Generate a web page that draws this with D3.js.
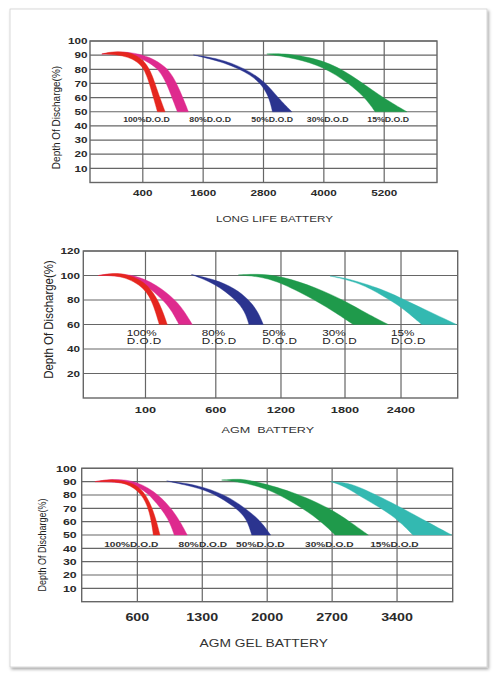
<!DOCTYPE html>
<html><head><meta charset="utf-8">
<script src="https://cdn.jsdelivr.net/npm/d3@7"></script>
<style>body{margin:0;background:#fff}svg{display:block}text{font-family:"Liberation Sans",Arial,sans-serif}</style>
</head><body><svg id="c" width="497" height="677"></svg>
<script>
// ---------- DATA ----------
const dodLabels = ["100%", "80%", "50%", "30%", "15%"];

// LONG LIFE BATTERY
const longLifeTitle = "LONG LIFE BATTERY";
const longLifeXTicks = [400, 1600, 2800, 4000, 5200];
const longLifeYTicks = [10, 20, 30, 40, 50, 60, 70, 80, 90, 100];
const longLifeLabelX = [472, 1739, 2972, 4076, 5279];
const longLife100 = {
  outer: [[-415,90.8],[-250,92.2],[-91,92.6],[88,92],[247,90.3],[400,86.8],[510,81.5],[590,75.5],[651,69],[744,59.5],[844,50]],
  inner: [[-415,90.8],[-151,90.5],[108,88.7],[280,85.5],[400,81.5],[470,76],[531,70],[611,60],[691,50]]
};
const longLife80 = {
  outer: [[-415,90.8],[-91,92.6],[247,91.6],[545,88.5],[760,84],[929,79],[1076,70],[1196,60],[1307,50]],
  inner: [[-415,90.8],[-51,90.8],[247,89.4],[486,85.5],[680,81],[830,73.5],[960,62],[1088,50]]
};
const longLife50 = {
  outer: [[1406,90.1],[1904,87.8],[2435,80.7],[2833,71.2],[3097,59.5],[3364,50]],
  inner: [[1406,90.1],[2037,84.9],[2568,76],[2800,67.5],[2920,59],[2978,50]]
};
const longLife30 = {
  outer: [[2866,90.8],[3230,91.5],[3992,86.8],[4557,76],[5086,61.8],[5651,50]],
  inner: [[2866,90.8],[3429,87.8],[3992,81.8],[4500,70],[4820,60],[5020,50]]
};

// AGM BATTERY
const agmTitle = "AGM  BATTERY";
const agmXTicks = [100, 600, 1200, 1800, 2400];
const agmYTicks = [20, 40, 60, 80, 100, 120];
const agmLabelX = [-51, 500, 1028, 1587, 2293];
const agm100 = {
  outer: [[-279,100],[-185,101.6],[-78,102],[96,95.4],[180,81.9],[221,71.3],[255,60]],
  inner: [[-279,100],[-78,100],[96,90],[155,76.7],[198,60]]
};
const agm80 = {
  outer: [[-279,100],[-185,101.6],[2,101],[180,92.7],[322,79.2],[381,69.8],[433,60]],
  inner: [[-279,100],[-78,100],[96,92.7],[180,84.6],[274,74.2],[338,60]]
};
const agm50 = {
  outer: [[426,100.8],[594,96.8],[777,89.5],[905,80.2],[988,70.5],[1037,60]],
  inner: [[426,100.8],[594,93.5],[786,80.2],[869,70.5],[905,60]]
};
const agm30 = {
  outer: [[807,100.4],[976,101.4],[1207,99.6],[1535,90],[1800,79.2],[2032,69],[2264,60]],
  inner: [[807,100.4],[1007,99.2],[1207,94.1],[1535,79.2],[1722,69],[1889,60]]
};
const agm15 = {
  outer: [[1659,99.6],[1800,98.3],[2210,88.7],[2460,79.2],[2707,70.3],[2989,60]],
  inner: [[1659,99.6],[1961,94.1],[2210,83.2],[2407,74.2],[2619,60]]
};

// AGM GEL BATTERY
const gelTitle = "AGM GEL BATTERY";
const gelXTicks = [600, 1300, 2000, 2700, 3400];
const gelYTicks = [10, 20, 30, 40, 50, 60, 70, 80, 90, 100];
const gelLabelX = [534, 1306, 1926, 2669, 3372];
const gel100 = {
  outer: [[143,90],[341,92.2],[575,89],[701,80],[790,65],[844,50]],
  inner: [[143,90],[305,90],[485,89],[647,81.3],[736,67.5],[772,50]]
};
const gel80 = {
  outer: [[143,90],[341,92.2],[593,90.7],[844,80],[1024,65],[1138,50]],
  inner: [[143,90],[485,89.5],[682,83.7],[809,73.8],[934,62.5],[998,50]]
};
const gel50 = {
  outer: [[916,90.5],[1240,87.8],[1556,80],[1760,70.2],[1922,61.2],[2037,50]],
  inner: [[916,90.5],[1221,86],[1419,81.3],[1653,71],[1779,62.5],[1833,50]]
};
const gel30 = {
  outer: [[1509,91.2],[1671,92],[1814,91.4],[2281,82.5],[2677,70],[2892,60],[3090,50]],
  inner: [[1509,91.2],[1706,89.7],[2012,85],[2389,70],[2604,58.8],[2731,50]]
};
const gel15 = {
  outer: [[2687,90],[2850,89.2],[3000,86],[3396,72.5],[3719,60],[3989,50]],
  inner: [[2687,90],[2838,86.5],[3036,77.5],[3359,65],[3571,50]]
};

// ---------- STYLE / LAYOUT ----------
const colors = {s100:"#e5261f", s80:"#de2a8e", s50:"#2b348f", s30:"#1f9a4b", s15:"#33b9b1"};
const drawOrder = ["s80","s100","s50","s30","s15"];
const SX = 1.3; // horizontal stretch of the reference lettering
const gridColor = "#666";

const charts = [
  {
    title: longLifeTitle, xTicks: longLifeXTicks, yTicks: longLifeYTicks, labelX: longLifeLabelX,
    bands: {s100: longLife100, s80: longLife80, s50: longLife50, s30: longLife30},
    box: {left:90, right:437, top:41, bottom:182.5},
    xScale: box => d3.scaleLinear().domain([-650, 6250]).range([box.left, box.right]),
    yDomain: [0, 100],
    labelStyle: "inline", labelY: 42.5, labelSize: 7, labelSX: 1.25,
    xTickSize: 9, yTickSize: 9, xTickY: 195.7, yTickGap: 2.5,
    titleX: 274.5, titleY: 221.7, titleSize: 9,
    yTitleX: 55.5, yTitleY: 117.5, yTitleSize: 10
  },
  {
    title: agmTitle, xTicks: agmXTicks, yTicks: agmYTicks, labelX: agmLabelX,
    bands: {s100: agm100, s80: agm80, s50: agm50, s30: agm30, s15: agm15},
    box: {left:83.3, right:457.7, top:251, bottom:398},
    xScale: box => {
      const fr = [0, .1661, .3539, .528, .699, .8486, 1];
      return d3.scaleLinear().domain([-400, 100, 600, 1200, 1800, 2400, 3000])
        .range(fr.map(f => box.left + f * (box.right - box.left)));
    },
    yDomain: [0, 120],
    labelStyle: "twoLine", labelY: 50.9, labelSize: 9, labelSX: 1.3,
    xTickSize: 9.8, yTickSize: 9, xTickY: 413.3, yTickGap: 3.3,
    titleX: 267.8, titleY: 432.7, titleSize: 9.7,
    yTitleX: 48.3, yTitleY: 319.5, yTitleSize: 11.5
  },
  {
    title: gelTitle, xTicks: gelXTicks, yTicks: gelYTicks, labelX: gelLabelX,
    bands: {s100: gel100, s80: gel80, s50: gel50, s30: gel30, s15: gel15},
    box: {left:81.7, right:452.7, top:468.3, bottom:601.7},
    xScale: box => d3.scaleLinear().domain([0, 4000]).range([box.left, box.right]),
    yDomain: [0, 100],
    labelStyle: "inline", labelY: 41, labelSize: 8, labelSX: 1.27,
    xTickSize: 11, yTickSize: 9.5, xTickY: 620.7, yTickGap: 5,
    titleX: 263.7, titleY: 646.7, titleSize: 10.6,
    yTitleX: 42, yTitleY: 545, yTitleSize: 9
  }
];

// ---------- DRAW ----------
const svg = d3.select("#c");
const defs = svg.append("defs");
const f = defs.append("filter").attr("id","sh").attr("x","-5%").attr("y","-5%").attr("width","110%").attr("height","110%");
f.append("feDropShadow").attr("dx",1.5).attr("dy",2).attr("stdDeviation",1.8).attr("flood-color","#000").attr("flood-opacity",0.35);

svg.append("rect").attr("x",10).attr("y",9).attr("width",477).attr("height",658)
  .attr("fill","#fff").attr("stroke","#d0d0d0").attr("stroke-width",0.8).attr("filter","url(#sh)");

function txt(g, x, y, s, o) {
  const t = g.append("text")
    .attr("transform", `translate(${x},${y}) scale(${o.sx || SX},1)` + (o.rotate ? ` rotate(${o.rotate})` : ""))
    .attr("text-anchor", o.anchor || "start")
    .attr("font-size", o.size)
    .attr("font-weight", o.weight || "normal")
    .attr("fill", o.fill || "#222")
    .style("white-space", "pre")
    .text(s);
  if (o.dy) t.attr("dy", o.dy);
  if (o.ls) t.attr("letter-spacing", o.ls);
  return t;
}

charts.forEach(c => {
  const g = svg.append("g");
  const b = c.box;
  const x = c.xScale(b);
  const y = d3.scaleLinear().domain(c.yDomain).range([b.bottom, b.top]);

  // grid
  g.append("g").selectAll("line").data(c.yTicks).join("line")
    .attr("x1", b.left).attr("x2", b.right).attr("y1", d => y(d)).attr("y2", d => y(d))
    .attr("stroke", gridColor).attr("stroke-width", 1.2);
  g.append("g").selectAll("line").data(c.xTicks).join("line")
    .attr("x1", d => x(d)).attr("x2", d => x(d)).attr("y1", b.top).attr("y2", b.bottom)
    .attr("stroke", gridColor).attr("stroke-width", 1.2);
  g.append("rect").attr("x", b.left).attr("y", b.top).attr("width", b.right - b.left).attr("height", b.bottom - b.top)
    .attr("fill", "none").attr("stroke", gridColor).attr("stroke-width", 1.4);

  // bands
  const line = d3.line().x(d => x(d[0])).y(d => y(d[1])).curve(d3.curveBasis);
  drawOrder.filter(k => c.bands[k]).forEach(k => {
    const bd = c.bands[k];
    const p = line(bd.outer) + line(bd.inner.slice().reverse()).replace(/^M/, "L") + "Z";
    g.append("path").attr("d", p).attr("fill", colors[k]).attr("stroke", colors[k]).attr("stroke-width", 0.4);
  });

  // DOD labels
  c.labelX.forEach((lx, i) => {
    if (c.labelStyle === "inline") {
      txt(g, x(lx), y(c.labelY), dodLabels[i] + "D.O.D", {size: c.labelSize, anchor: "middle", weight: "bold", sx: c.labelSX, fill: "#333"});
    } else {
      txt(g, x(lx), y(c.labelY), dodLabels[i], {size: c.labelSize, sx: c.labelSX, fill: "#222"});
      txt(g, x(lx), y(c.labelY) + 8.3, "D.O.D", {size: c.labelSize, sx: c.labelSX, fill: "#222", ls: 0.4});
    }
  });

  // tick labels
  c.xTicks.forEach(t => txt(g, x(t), c.xTickY, String(t), {size: c.xTickSize, anchor: "middle", weight: "bold", fill: "#2a2a2a"}));
  c.yTicks.forEach(t => txt(g, b.left - c.yTickGap, y(t), String(t), {size: c.yTickSize, anchor: "end", weight: "bold", fill: "#2a2a2a", dy: "0.36em"}));

  // titles
  txt(g, c.titleX, c.titleY, c.title, {size: c.titleSize, anchor: "middle", fill: "#333"});
  txt(g, c.yTitleX, c.yTitleY, "Depth Of Discharge(%)", {size: c.yTitleSize, anchor: "middle", rotate: -90, fill: "#222", dy: "0.35em", sx: 1.15});
});
</script></body></html>
